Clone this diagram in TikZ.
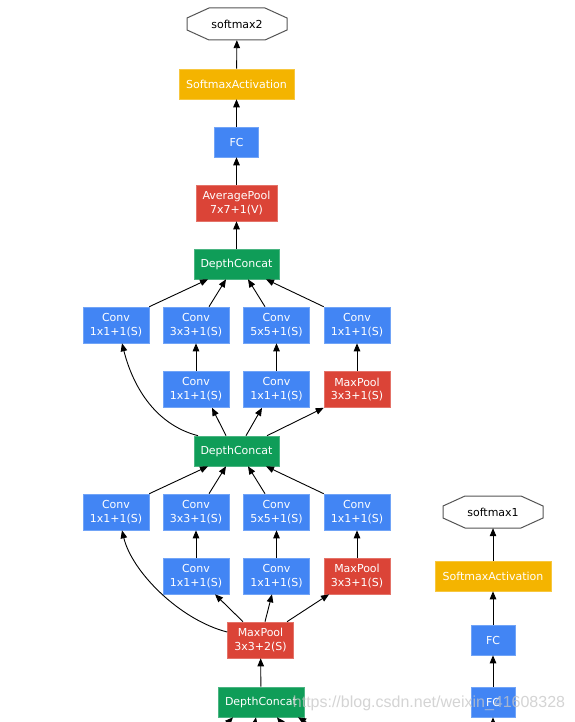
\documentclass[tikz,border=0pt]{standalone}
\usepackage{fontspec}
\setmainfont{DejaVu Sans}
\newfontfamily\wmfont{Liberation Sans}
\usetikzlibrary{arrows.meta}
\definecolor{gBlue}{HTML}{4285F4}
\definecolor{gRed}{HTML}{DB4437}
\definecolor{gGreen}{HTML}{0F9D58}
\definecolor{gYellow}{HTML}{F4B400}
\definecolor{octGray}{HTML}{555555}
\tikzset{
  box/.style={rectangle, inner sep=0pt, text=white, align=center,
    font=\fontsize{11}{13.8}\selectfont},
  bluebox/.style={box, fill=gBlue, draw=gBlue!75!white, line width=0.6pt},
  redbox/.style={box, fill=gRed, draw=gRed!75!white, line width=0.6pt},
  greenbox/.style={box, fill=gGreen, draw=gGreen!75!white, line width=0.6pt},
  yellowbox/.style={box, fill=gYellow, draw=gYellow!75!white, line width=0.6pt},
  conv/.style={bluebox, minimum width=66pt, minimum height=36pt},
  pool/.style={redbox, minimum width=66pt, minimum height=36pt},
  concat/.style={greenbox, minimum width=85pt, minimum height=30pt},
  fcbox/.style={bluebox, minimum width=44pt, minimum height=30pt},
  actbox/.style={yellowbox, minimum width=115pt, minimum height=30pt},
  octnode/.style={inner sep=0pt, minimum width=100pt, minimum height=32pt,
    text=black, font=\fontsize{11}{13.8}\selectfont},
  octline/.style={draw=octGray, line width=1pt, fill=white},
  arr/.style={-{Triangle[length=8pt,width=6.5pt]}, line width=0.9pt, black},
  wm/.style={text=gray!45, opacity=0.75, font=\wmfont\fontsize{16}{18}\selectfont, inner sep=0pt},
}
\begin{document}
\begin{tikzpicture}[x=1pt,y=-1pt]
\useasboundingbox (0,0) rectangle (574,722);
\fill[white] (0,0) rectangle (574,722);
\clip (0,0) rectangle (574,722);

% octagon outlines
\draw[octline] (209,8) -- (265,8) -- (287,18) -- (287,30) -- (265,40) -- (209,40) -- (187,30) -- (187,18) -- cycle;
\draw[octline] (465,496) -- (521,496) -- (543,506) -- (543,518) -- (521,528) -- (465,528) -- (443,518) -- (443,506) -- cycle;

% main column top
\node[octnode] (s2) at (237,24) {softmax2};
\node[actbox] (sa2) at (236.5,84) {SoftmaxActivation};
\node[fcbox] (fc2) at (236.5,142) {FC};
\node[pool, minimum width=81pt] (ap) at (236.5,203) {AveragePool\\7x7+1(V)};
\node[concat] (dcT) at (236.5,264) {DepthConcat};

% upper inception module
\node[conv] (a1) at (116,325) {Conv\\1x1+1(S)};
\node[conv] (a2) at (196,325) {Conv\\3x3+1(S)};
\node[conv] (a3) at (276.5,325) {Conv\\5x5+1(S)};
\node[conv] (a4) at (357,325) {Conv\\1x1+1(S)};
\node[conv] (b2) at (196,389.5) {Conv\\1x1+1(S)};
\node[conv] (b3) at (276.5,389.5) {Conv\\1x1+1(S)};
\node[pool] (b4) at (357,389.5) {MaxPool\\3x3+1(S)};
\node[concat] (dcM) at (236.5,451) {DepthConcat};

% lower inception module
\node[conv] (c1) at (116,512) {Conv\\1x1+1(S)};
\node[conv] (c2) at (196,512) {Conv\\3x3+1(S)};
\node[conv] (c3) at (276.5,512) {Conv\\5x5+1(S)};
\node[conv] (c4) at (357,512) {Conv\\1x1+1(S)};
\node[conv] (d2) at (196,576) {Conv\\1x1+1(S)};
\node[conv] (d3) at (276.5,576) {Conv\\1x1+1(S)};
\node[pool] (d4) at (357,576) {MaxPool\\3x3+1(S)};
\node[pool] (mp) at (260.5,640) {MaxPool\\3x3+2(S)};
\node[concat, minimum width=86pt] (dcB) at (261,702) {DepthConcat};

% auxiliary column
\node[octnode] (s1) at (493,512) {softmax1};
\node[actbox, minimum width=116pt] (sa1) at (493,576) {SoftmaxActivation};
\node[fcbox] (fc1) at (493,640) {FC};
\node[fcbox] (fc0) at (493,702) {FC};

% free ends below the picture
\coordinate (u1) at (220,731);
\coordinate (u2) at (253,733);
\coordinate (u3) at (288,731);
\coordinate (u4) at (316,728);
\coordinate (u5) at (493,736);

% top chain
\draw[arr] (sa2) -- (s2);
\draw[arr] (fc2) -- (sa2);
\draw[arr] (ap) -- (fc2);
\draw[arr] (dcT) -- (ap);

% upper module edges
\draw[arr] (a1.north east) -- ([xshift=-28.5pt]dcT.south);
\draw[arr] ([xshift=13pt]a2.north) -- ([xshift=-10.5pt]dcT.south);
\draw[arr] ([xshift=-11.5pt]a3.north) -- ([xshift=11.5pt]dcT.south);
\draw[arr] (a4.north west) -- ([xshift=29.5pt]dcT.south);
\draw[arr] (b2) -- (a2);
\draw[arr] (b3) -- (a3);
\draw[arr] (b4) -- (a4);
\draw[arr] ([xshift=-38.5pt]dcM.north) .. controls (153,424) and (132,383) .. ([xshift=6pt]a1.south);
\draw[arr] ([xshift=-10.5pt]dcM.north) -- ([xshift=16pt]b2.south);
\draw[arr] ([xshift=9.5pt]dcM.north) -- ([xshift=-14.5pt]b3.south);
\draw[arr] ([xshift=30.5pt]dcM.north) -- (b4.south west);

% lower module edges
\draw[arr] (c1.north east) -- ([xshift=-28.5pt]dcM.south);
\draw[arr] ([xshift=13pt]c2.north) -- ([xshift=-10.5pt]dcM.south);
\draw[arr] ([xshift=-11.5pt]c3.north) -- ([xshift=11.5pt]dcM.south);
\draw[arr] (c4.north west) -- ([xshift=29.5pt]dcM.south);
\draw[arr] (d2) -- (c2);
\draw[arr] (d3) -- (c3);
\draw[arr] (d4) -- (c4);
\draw[arr] ([yshift=8pt]mp.west) .. controls (180,620) and (132,572) .. ([xshift=6pt]c1.south);
\draw[arr] ([xshift=-17.5pt]mp.north) -- ([xshift=19pt]d2.south);
\draw[arr] ([xshift=4.5pt]mp.north) -- ([xshift=-4.5pt]d3.south);
\draw[arr] ([xshift=26.5pt]mp.north) -- ([xshift=-28pt]d4.south);
\draw[arr] (dcB) -- (mp);
\draw[arr] (u1) -- ([xshift=-28pt]dcB.south);
\draw[arr] (u2) -- ([xshift=-5pt]dcB.south);
\draw[arr] (u3) -- ([xshift=16pt]dcB.south);
\draw[arr] (u4) -- ([xshift=37pt]dcB.south);

% auxiliary chain
\draw[arr] (sa1) -- (s1);
\draw[arr] (fc1) -- (sa1);
\draw[arr] (fc0) -- (fc1);
\draw[arr] (u5) -- (fc0);

% watermark
\node[wm] (wmk) at (429,703) {https://blog.csdn.net/weixin\_41608328};
\end{tikzpicture}
\end{document}
